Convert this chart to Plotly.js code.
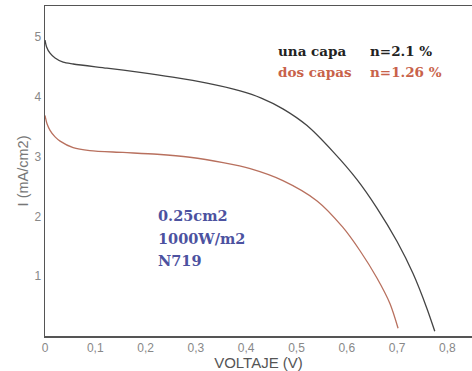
<!DOCTYPE html>
<html><head><meta charset="utf-8">
<script src="https://cdn.plot.ly/plotly-3.0.1.min.js"></script>
<style>html,body{margin:0;padding:0;background:#fff}#c{width:472px;height:371px}</style>
</head><body><div id="c"></div>
<script>
const vUna = [0, 0.003, 0.01, 0.02, 0.036, 0.056, 0.123, 0.189, 0.254, 0.322, 0.388, 0.43, 0.473, 0.521, 0.573, 0.620, 0.660, 0.700, 0.732, 0.759, 0.775];
const iUna = [4.95, 4.84, 4.73, 4.65, 4.58, 4.55, 4.48, 4.41, 4.33, 4.23, 4.10, 3.98, 3.80, 3.52, 3.08, 2.62, 2.14, 1.58, 1.04, 0.47, 0.08];
const vDos = [0, 0.004, 0.01, 0.02, 0.03, 0.056, 0.089, 0.155, 0.223, 0.288, 0.354, 0.408, 0.473, 0.541, 0.592, 0.626, 0.660, 0.686, 0.702];
const iDos = [3.69, 3.55, 3.44, 3.33, 3.26, 3.15, 3.10, 3.07, 3.04, 2.99, 2.90, 2.80, 2.60, 2.26, 1.82, 1.43, 0.97, 0.54, 0.13];
const xTicks = [0, 0.1, 0.2, 0.3, 0.4, 0.5, 0.6, 0.7, 0.8];
const xTickText = ["0", "0,1", "0,2", "0,3", "0,4", "0,5", "0,6", "0,7", "0,8"];
const yTicks = [1, 2, 3, 4, 5];
const legendLabels = ["una capa", "dos capas"];
const efficiencies = ["n=2.1 %", "n=1.26 %"];
const cellInfo = ["0.25cm2", "1000W/m2", "N719"];

const colUna = "#444444", colDos = "#b8705e";
const serif = "DejaVu Serif, Liberation Serif, serif";
const data = [
  {x: vUna, y: iUna, mode: "lines", line: {color: colUna, width: 1.3, shape: "spline", smoothing: 0.8}, name: legendLabels[0]},
  {x: vDos, y: iDos, mode: "lines", line: {color: colDos, width: 1.3, shape: "spline", smoothing: 0.8}, name: legendLabels[1]}
];
const ann = [];
[ "#222222", "#c8624a"].forEach((c, k) => {
  ann.push({xref: "paper", yref: "paper", x: 0.54, y: [0.864, 0.8][k], xanchor: "left", yanchor: "middle", showarrow: false,
    text: "<b>" + legendLabels[k] + "</b>", font: {family: serif, size: 13.5, color: c}});
  ann.push({xref: "paper", yref: "paper", x: 0.757, y: [0.864, 0.8][k], xanchor: "left", yanchor: "middle", showarrow: false,
    text: "<b>" + efficiencies[k] + "</b>", font: {family: serif, size: 13.5, color: c}});
});
cellInfo.forEach((t, k) => {
  ann.push({xref: "paper", yref: "paper", x: 0.26, y: [0.366, 0.296, 0.23][k], xanchor: "left", yanchor: "middle", showarrow: false,
    text: "<b>" + t + "</b>", font: {family: serif, size: 14.5, color: "#4c52a0"}});
});
const layout = {
  width: 472, height: 371,
  margin: {l: 45, r: 0, t: 6, b: 35},
  paper_bgcolor: "#fff", plot_bgcolor: "#fff",
  showlegend: false,
  font: {family: "Liberation Sans, Arial, sans-serif", color: "#777"},
  xaxis: {range: [0, 0.849], tickvals: xTicks, ticktext: xTickText, showgrid: false, zeroline: false,
    showline: true, linecolor: "#555", linewidth: 1.5, mirror: true, ticks: "", ticklen: 0,
    tickfont: {size: 12, color: "#888"},
    title: {text: "VOLTAJE (V)", font: {size: 15, color: "#555"}, standoff: 2}},
  yaxis: {range: [0, 5.52], tickvals: yTicks, showgrid: false, zeroline: false,
    showline: true, linecolor: "#555", linewidth: 1.5, ticks: "",
    tickfont: {size: 12, color: "#888"},
    title: {text: "I (mA/cm2)", font: {size: 14.5, color: "#777"}, standoff: 2}},
  annotations: ann
};
Plotly.newPlot("c", data, layout, {staticPlot: true, displayModeBar: false});
</script></body></html>
